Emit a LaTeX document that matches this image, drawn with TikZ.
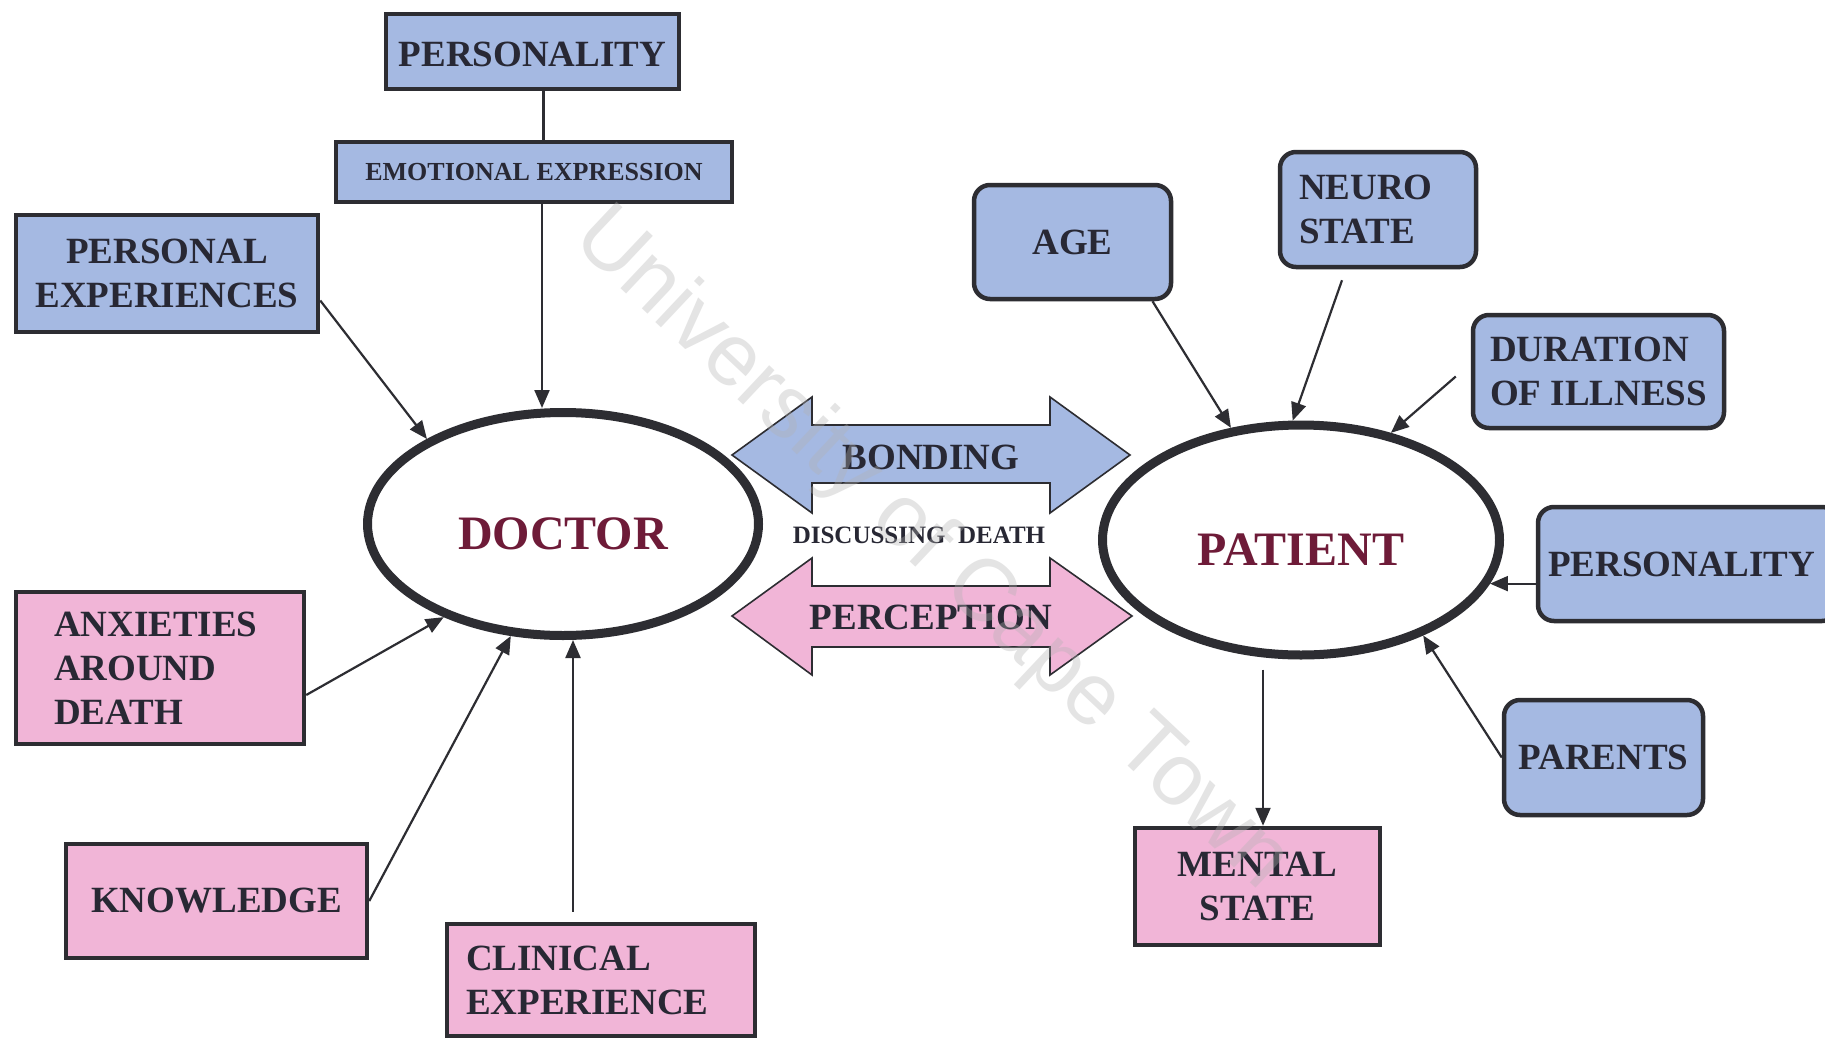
\documentclass[tikz,border=0pt]{standalone}
\usepackage{fontspec}
\setmainfont{Liberation Serif}
\newfontfamily\wmfont{Liberation Sans}
\usetikzlibrary{shapes.geometric,arrows.meta,calc}
\definecolor{boxblue}{RGB}{165,185,226}
\definecolor{boxpink}{RGB}{241,181,215}
\definecolor{edge}{RGB}{45,45,50}
\definecolor{maroon}{RGB}{110,27,56}
\definecolor{ink}{RGB}{40,40,52}
\begin{document}
\begin{tikzpicture}[x=1pt,y=-1pt,
  box/.style={draw=edge, line width=4.5pt, inner sep=0pt, text=ink,
    font=\bfseries\fontsize{37}{44}\selectfont, align=center},
  bluebox/.style={box, fill=boxblue},
  pinkbox/.style={box, fill=boxpink},
  roundbox/.style={rounded corners=16pt},
  person/.style={ellipse, draw=edge, line width=9pt, fill=white, text=maroon,
    font=\bfseries\fontsize{48}{56}\selectfont, inner sep=0pt,
    text height=50pt, text depth=0pt},
  conn/.style={draw=edge, line width=2.2pt, -{Triangle[length=18pt,width=15pt]}},
  plainline/.style={draw=edge, line width=2.2pt},
  bigarrow/.style={draw=edge, line width=1.6pt},
  lbl/.style={text=ink, font=\bfseries\fontsize{37}{44}\selectfont},
  smalllbl/.style={text=ink, font=\bfseries\fontsize{25}{30}\selectfont},
  wm/.style={text=gray!60, opacity=0.35, font=\wmfont\fontsize{88}{88}\selectfont}
]
\useasboundingbox (0,0) rectangle (1825,1041);
\fill[white] (0,0) rectangle (1825,1041);

% ---------- doctor side ----------
\node[bluebox, minimum width=293pt, minimum height=75pt, text height=30pt, text depth=0pt] (pers1) at (532.5,51.5) {PERSONALITY};
\node[bluebox, minimum width=396pt, minimum height=60pt,
      font=\bfseries\fontsize{26}{30}\selectfont] (emo) at (534,172) {EMOTIONAL EXPRESSION};
\node[bluebox, minimum width=302pt, minimum height=117pt] (persexp) at (167,273.5) {PERSONAL\\EXPERIENCES};
\node[pinkbox, minimum width=288pt, minimum height=152pt, align=left, text width=212pt] (anx) at (160,668) {ANXIETIES\\AROUND\\DEATH};
\node[pinkbox, minimum width=301pt, minimum height=114pt] (know) at (216.5,901) {KNOWLEDGE};
\node[pinkbox, minimum width=308pt, minimum height=112pt, align=left, text width=270pt] (clin) at (601,980) {CLINICAL\\EXPERIENCE};
\node[person, minimum width=391pt, minimum height=223pt] (doctor) at (563,524) {DOCTOR};

% ---------- patient side ----------
\node[bluebox, roundbox, minimum width=197pt, minimum height=114pt] (age) at (1072.5,242) {AGE};
\node[bluebox, roundbox, minimum width=196pt, minimum height=115pt, align=left, text width=158pt] (neuro) at (1378,209.5) {NEURO\\STATE};
\node[bluebox, roundbox, minimum width=251pt, minimum height=113pt, align=left] (dur) at (1598.5,371.5) {DURATION\\OF ILLNESS};
\node[bluebox, roundbox, minimum width=300pt, minimum height=114pt, align=left, text width=280pt] (ppers) at (1688,564) {PERSONALITY};
\node[bluebox, roundbox, minimum width=199pt, minimum height=115pt] (parents) at (1603.5,757.5) {PARENTS};
\node[pinkbox, minimum width=245pt, minimum height=117pt] (mental) at (1257.5,886.5) {MENTAL\\STATE};
\node[person, minimum width=397pt, minimum height=230pt] (patient) at (1301,540) {PATIENT};

% ---------- double arrows ----------
\path[bigarrow, fill=boxblue] (732,455) -- (812,397) -- (812,425) -- (1050,425) -- (1050,397)
  -- (1130,455) -- (1050,513) -- (1050,483) -- (812,483) -- (812,513) -- cycle;
\path[bigarrow, fill=boxpink] (732,616) -- (812,558) -- (812,586) -- (1050,586) -- (1050,558)
  -- (1132,616) -- (1050,675) -- (1050,647) -- (812,647) -- (812,675) -- cycle;
\node[lbl] (bond) at (931,457) {BONDING};
\node[lbl] (perc) at (931,617) {PERCEPTION};
\node[smalllbl] (disc) at (919,535) {DISCUSSING\ \ DEATH};

% ---------- connectors ----------
\draw[plainline] ([xshift=11pt]pers1.south) -- ([xshift=11pt]pers1.south |- emo.north);
\draw[conn] ([xshift=8pt]emo.south) -- ([xshift=8pt]emo.south |- doctor.north);
\draw[conn] ([yshift=-27pt]persexp.east) -- (doctor.148);
\draw[conn] ([yshift=-27pt]anx.east) -- (doctor.218);
\draw[conn] (know.east) -- (doctor.245);
\draw[conn] ($([xshift=-28pt]clin.north)+(0,-10)$) -- ([xshift=-28pt]clin.north |- doctor.south);

\draw[conn] ([xshift=80pt]age.south) -- (patient.122);
\draw[conn] ($(neuro.south)+(-36,11)$) -- (patient.94);
\draw[conn] ($(dur.west)+(-15,5)$) -- (patient.50);
\draw[conn] (patient.-13 -| ppers.west) -- (patient.-13);
\draw[conn] (parents.west) -- (patient.-38);
\draw[conn] ($(mental.north |- patient.south)+(5.5,10)$) -- ([xshift=5.5pt]mental.north);

% ---------- watermark ----------
\node[wm, rotate=-43.3] (water) at (931,550) {University of Cape Town};
\end{tikzpicture}
\end{document}
